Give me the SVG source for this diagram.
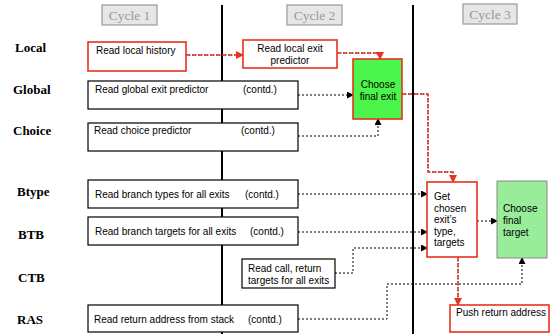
<svg xmlns="http://www.w3.org/2000/svg" width="557" height="334" viewBox="0 0 557 334">
<style>
.lbl{font-family:"Liberation Serif",serif;font-weight:bold;font-size:13px;fill:#000}
.cyc{font-family:"Liberation Serif",serif;font-size:13.5px;fill:#999;text-anchor:middle}
.cycbox{fill:#e6e6e6;stroke:#999;stroke-width:1.2}
.t{font-family:"Liberation Sans",Arial,sans-serif;font-size:10px;fill:#000}
.box{fill:#fff;stroke:#000;stroke-width:1.2}
.rbox{fill:#fff;stroke:#e8311f;stroke-width:1.6}
.div{stroke:#000;stroke-width:2}
.dot{fill:none;stroke:#000;stroke-width:1;stroke-dasharray:2 2}
.rdb{fill:none;stroke:#000;stroke-width:1;stroke-dasharray:1.5 1.5}
.rd{fill:none;stroke:#e8311f;stroke-width:1.5;stroke-dasharray:4 2}
</style>
<defs>
<marker id="ab" markerWidth="7" markerHeight="7" refX="6" refY="3.5" orient="auto" markerUnits="userSpaceOnUse">
<path d="M0,0 L7,3.5 L0,7 Z" fill="#000"/>
</marker>
<marker id="ar" markerWidth="8" markerHeight="8" refX="7" refY="4" orient="auto" markerUnits="userSpaceOnUse">
<path d="M0,0 L8,4 L0,8 Z" fill="#e8311f"/>
</marker>
</defs>
<rect width="557" height="334" fill="#fff"/>
<g id="dividers">
<line class="div" x1="222" y1="5" x2="222" y2="334"/>
<line class="div" x1="413" y1="5" x2="413" y2="334"/>
</g>
<g id="cycles">
<rect class="cycbox" x="102" y="5" width="55" height="20"/>
<text class="cyc" x="129.5" y="20">Cycle 1</text>
<rect class="cycbox" x="287" y="5" width="55" height="20"/>
<text class="cyc" x="314.5" y="20">Cycle 2</text>
<rect class="cycbox" x="463" y="4" width="54" height="20"/>
<text class="cyc" x="490" y="19">Cycle 3</text>
</g>
<g id="labels">
<text class="lbl" x="15" y="52">Local</text>
<text class="lbl" x="13" y="94">Global</text>
<text class="lbl" x="13" y="135">Choice</text>
<text class="lbl" x="17" y="196">Btype</text>
<text class="lbl" x="18" y="239">BTB</text>
<text class="lbl" x="18" y="282">CTB</text>
<text class="lbl" x="17" y="324">RAS</text>
</g>
<g id="connectors">
<path class="rdb" d="M186,55 H241"/>
<path class="rd" d="M186,55 H243" marker-end="url(#ar)"/>
<path class="rdb" d="M337,53 H380 V57"/>
<path class="rd" d="M337,53 H380 V59" marker-end="url(#ar)"/>
<path class="dot" d="M298,95 H353" marker-end="url(#ab)"/>
<path class="dot" d="M298,136 H378 V119" marker-end="url(#ab)"/>
<path class="rdb" d="M402,94 H428 V172 H453 V180"/>
<path class="rd" d="M402,94 H428 V172 H453 V182" marker-end="url(#ar)"/>
<path class="dot" d="M298,194 H427" marker-end="url(#ab)"/>
<path class="dot" d="M298,232 H427" marker-end="url(#ab)"/>
<path class="dot" d="M335,273 H353 V248 H427" marker-end="url(#ab)"/>
<path class="dot" d="M298,319 H387 V284 H522 V258" marker-end="url(#ab)"/>
<path class="dot" d="M477,221 H497" marker-end="url(#ab)"/>
<path class="rdb" d="M458,257 V302"/>
<path class="rd" d="M458,257 V305" marker-end="url(#ar)"/>
</g>
<g id="local-history">
<rect class="rbox" x="88" y="42" width="98" height="29"/>
<text class="t" x="96" y="54">Read local history</text>
</g>
<g id="local-exit">
<rect class="rbox" x="243" y="40" width="94" height="28"/>
<text class="t" x="290" y="52" text-anchor="middle">Read local exit</text>
<text class="t" x="290" y="64" text-anchor="middle">predictor</text>
</g>
<g id="global">
<rect class="box" x="88" y="81" width="210" height="28"/>
<text class="t" x="95" y="93">Read global exit predictor</text>
<text class="t" x="243" y="93">(contd.)</text>
</g>
<g id="choice">
<rect class="box" x="88" y="123" width="210" height="28"/>
<text class="t" x="94" y="134">Read choice predictor</text>
<text class="t" x="241" y="134">(contd.)</text>
</g>
<g id="choose-exit">
<rect x="353" y="59" width="49" height="60" fill="#4cf54c" stroke="#e8311f" stroke-width="1.6"/>
<text class="t" x="378" y="88" text-anchor="middle" fill="#0a2a0a">Choose</text>
<text class="t" x="378" y="100" text-anchor="middle" fill="#0a2a0a">final exit</text>
</g>
<g id="btype">
<rect class="box" x="88" y="180" width="210" height="28"/>
<text class="t" x="95" y="198">Read branch types for all exits</text>
<text class="t" x="245" y="198">(contd.)</text>
</g>
<g id="btb">
<rect class="box" x="88" y="217" width="210" height="28"/>
<text class="t" x="95" y="235">Read branch targets for all exits</text>
<text class="t" x="250" y="235">(contd.)</text>
</g>
<g id="ctb">
<rect class="box" x="242" y="259" width="93" height="29"/>
<text class="t" x="248" y="272">Read call, return</text>
<text class="t" x="248" y="284">targets for all exits</text>
</g>
<g id="ras">
<rect class="box" x="88" y="305" width="210" height="27"/>
<text class="t" x="94" y="323">Read return address from stack</text>
<text class="t" x="248" y="323">(contd.)</text>
</g>
<g id="get-chosen">
<rect class="rbox" x="427" y="182" width="50" height="75"/>
<text class="t" x="434" y="200">Get</text>
<text class="t" x="434" y="212">chosen</text>
<text class="t" x="434" y="223">exit’s</text>
<text class="t" x="434" y="235">type,</text>
<text class="t" x="434" y="246">targets</text>
</g>
<g id="choose-target">
<rect x="497" y="181" width="50" height="77" fill="#99ec99" stroke="#888" stroke-width="1"/>
<text class="t" x="503" y="212" fill="#2d4a2d">Choose</text>
<text class="t" x="503" y="224" fill="#2d4a2d">final</text>
<text class="t" x="503" y="236" fill="#2d4a2d">target</text>
</g>
<g id="push-ras">
<rect class="rbox" x="450" y="305" width="99" height="27"/>
<text class="t" x="456" y="316">Push return address</text>
</g>
</svg>
